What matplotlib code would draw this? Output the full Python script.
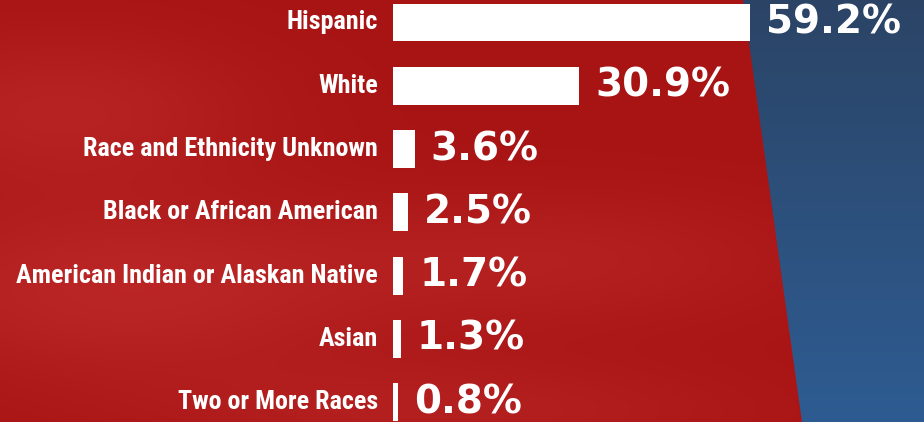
import matplotlib
matplotlib.use("Agg")
import matplotlib.pyplot as plt
import numpy as np
from matplotlib.patches import Polygon

categories = [
    "Hispanic",
    "White",
    "Race and Ethnicity Unknown",
    "Black or African American",
    "American Indian or Alaskan Native",
    "Asian",
    "Two or More Races",
]
values = [59.2, 30.9, 3.6, 2.5, 1.7, 1.3, 0.8]
value_labels = ["59.2%", "30.9%", "3.6%", "2.5%", "1.7%", "1.3%", "0.8%"]

W, H = 924, 422
fig = plt.figure(figsize=(W / 100, H / 100), dpi=100)

# background: blue sky with a slanted red panel
bg = fig.add_axes([0, 0, 1, 1])
bg.set_xlim(0, W)
bg.set_ylim(H, 0)
bg.axis("off")

yy, xx = np.mgrid[0:H, 0:W]
t = yy / H
blue = np.zeros((H, W, 3))
top_b = np.array([0x2B, 0x44, 0x66]) / 255
bot_b = np.array([0x2E, 0x5C, 0x92]) / 255
for c in range(3):
    blue[..., c] = top_b[c] * (1 - t) + bot_b[c] * t
bg.imshow(blue, extent=(0, W, H, 0), zorder=0)

red = np.zeros((H, W, 3))
base_r = np.array([0xA8, 0x14, 0x14]) / 255
light_r = np.array([0xC8, 0x32, 0x32]) / 255
blob = (0.55 * np.exp(-(((xx - 120) / 260) ** 2 + ((yy - 290) / 90) ** 2))
        + 0.45 * np.exp(-(((xx - 60) / 200) ** 2 + ((yy - 110) / 80) ** 2))
        + 0.35 * np.exp(-(((xx - 560) / 250) ** 2 + ((yy - 260) / 70) ** 2))
        + 0.35 * np.exp(-(((xx - 450) / 300) ** 2 + ((yy - 410) / 50) ** 2)))
blob = np.clip(blob, 0, 1)
for c in range(3):
    red[..., c] = base_r[c] * (1 - blob) + light_r[c] * blob
im = bg.imshow(red, extent=(0, W, H, 0), zorder=1)
poly = Polygon([(0, 0), (743, 0), (802, H), (0, H)], closed=True,
               transform=bg.transData, facecolor="none", edgecolor="none")
bg.add_patch(poly)
im.set_clip_path(poly)

# bars
x0 = 393
px_per_unit = 357 / 59.2
ax = fig.add_axes([x0 / W, 0, 1 - x0 / W, 1])
ax.patch.set_alpha(0)
ax.set_xlim(0, (W - x0) / px_per_unit)
pitch = 63.3
ax.set_ylim((H - 22.5) / pitch, -22.5 / pitch)
ax.axis("off")

ypos = np.arange(len(categories))
ax.barh(ypos, values, height=0.6, color="white", zorder=3)

label_font = ["Roboto Condensed", "Noto Sans", "DejaVu Sans"]
for y, cat, v, vl in zip(ypos, categories, values, value_labels):
    ax.annotate(cat, xy=(0, y), xytext=(-10.8, 0), textcoords="offset points",
                ha="right", va="center", color="white", fontsize=18.8,
                fontweight="bold", fontstretch="condensed", family=label_font,
                annotation_clip=False)
    ax.annotate(vl, xy=(v, y), xytext=(11.5, 0), textcoords="offset points",
                ha="left", va="center", color="white", fontsize=28,
                fontweight="bold", family=["DejaVu Sans"],
                annotation_clip=False)

fig.savefig("out.png", dpi=100)
